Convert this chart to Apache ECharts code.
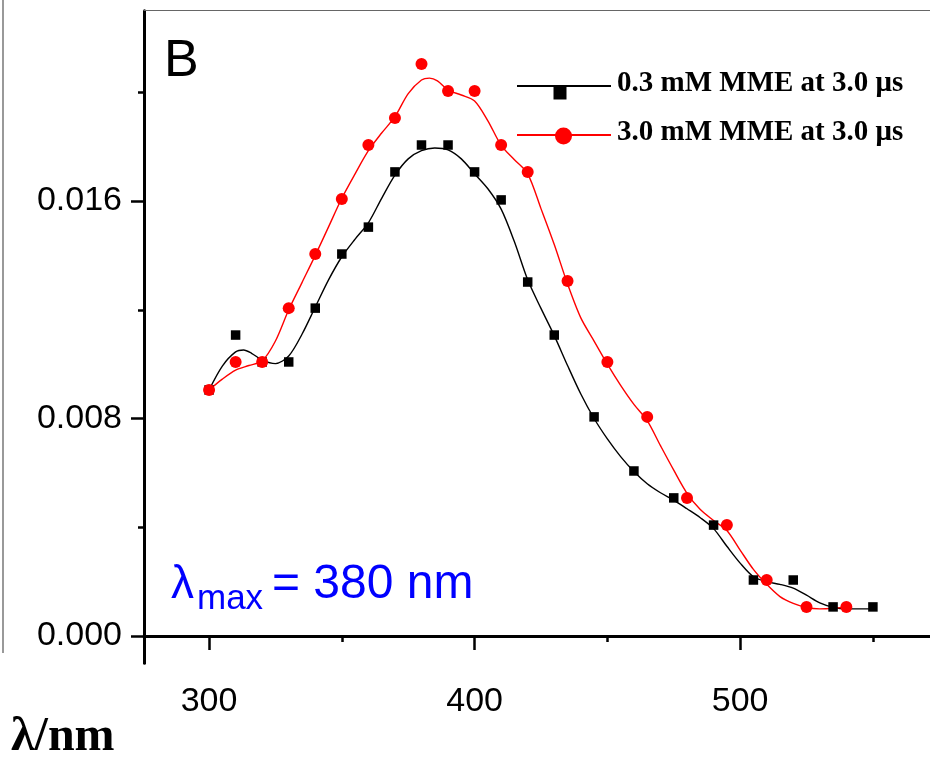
<!DOCTYPE html>
<html>
<head>
<meta charset="utf-8">
<script src="https://cdn.jsdelivr.net/npm/echarts@6/dist/echarts.min.js"></script>
<style>
html,body{margin:0;padding:0;background:#fff;}
#chart{width:930px;height:757px;}
</style>
</head>
<body>
<div id="chart"></div>
<script>
// Measured points (wavelength nm, ΔOD)
var blackX = [300,310,320,330,340,350,360,370,380,390,400,410,420,430,445,460,475,490,505,520,535,550];
var blackY = [0.00905,0.01107,0.01008,0.01008,0.01206,0.01405,0.01504,0.01707,0.01806,0.01806,0.01707,0.01604,0.01302,0.01107,0.00806,0.00607,0.00508,0.00408,0.00206,0.00206,0.00107,0.00107];
var redX = [300,310,320,330,340,350,360,370,380,390,400,410,420,435,450,465,480,495,510,525,540];
var redY = [0.00905,0.01008,0.01008,0.01206,0.01405,0.01607,0.01806,0.01905,0.02104,0.02005,0.02005,0.01806,0.01707,0.01306,0.01008,0.00806,0.00508,0.00408,0.00206,0.00107,0.00107];
// Fitted curves
var blackFitX = [300,305,310,313,316,320,325,330,335,340,345,350,355,360,365,370,375,380,385,390,395,400,405,410,415,420,425,430,435,440,445,450,455,460,465,470,475,480,485,490,495,500,505,510,515,520,525,530,535,540,550];
var blackFitY = [0.00905,0.00993,0.01045,0.01052,0.01040,0.01015,0.01002,0.01030,0.01110,0.01210,0.01310,0.01395,0.01460,0.01520,0.01610,0.01695,0.01755,0.01785,0.01795,0.01788,0.01755,0.01700,0.01645,0.01570,0.01450,0.01310,0.01205,0.01105,0.00995,0.00890,0.00800,0.00725,0.00660,0.00605,0.00560,0.00527,0.00500,0.00468,0.00435,0.00395,0.00330,0.00268,0.00218,0.00200,0.00190,0.00176,0.00150,0.00122,0.00106,0.00100,0.00100];
var redFitX = [300,305,310,315,320,325,330,335,340,345,350,355,360,365,370,375,380,383,386,390,395,400,405,410,415,420,425,430,435,440,445,450,455,460,465,470,475,480,485,490,495,500,505,510,515,520,525,530,535,540];
var redFitY = [0.00905,0.00945,0.00978,0.00995,0.01012,0.01085,0.01200,0.01300,0.01400,0.01505,0.01610,0.01700,0.01785,0.01850,0.01910,0.01995,0.02045,0.02052,0.02042,0.02008,0.01990,0.01968,0.01895,0.01805,0.01752,0.01700,0.01572,0.01440,0.01295,0.01170,0.01085,0.01000,0.00922,0.00852,0.00792,0.00700,0.00610,0.00525,0.00465,0.00425,0.00388,0.00316,0.00245,0.00190,0.00145,0.00120,0.00105,0.00100,0.00102,0.00107];
var xMajor = [300,400,500];
var xMinor = [350,450,550];
var yMajor = [0,0.008,0.016];
var yMinor = [0.004,0.012,0.020];
var seriesNames = ['0.3 mM MME at 3.0 \u03bcs','3.0 mM MME at 3.0 \u03bcs'];

function pairs(xs, ys){ return xs.map(function(x,i){return [x, ys[i]];}); }

var XMIN = 275.5, XMAX = 571.5, YMIN = -0.001, YMAX = 0.023;
var chart = echarts.init(document.getElementById('chart'), null, {renderer:'canvas'});
var option = {
  animation: false,
  backgroundColor: '#fff',
  grid: {left: 144, top: 10.7, right: 0, height: 652.5, containLabel: false},
  xAxis: [
    {type:'value', min:XMIN, max:XMAX, position:'bottom',
     axisLine:{show:true, lineStyle:{color:'#000', width:3}},
     axisTick:{show:true, customValues:xMajor, length:14, lineStyle:{color:'#000', width:2.5}},
     axisLabel:{show:true, customValues:xMajor, margin:21, color:'#000', fontSize:34, fontFamily:'Liberation Sans, Arial'},
     splitLine:{show:false}},
    {type:'value', min:XMIN, max:XMAX, position:'bottom',
     axisLine:{show:false},
     axisTick:{show:true, customValues:xMinor, length:6, lineStyle:{color:'#000', width:2.5}},
     axisLabel:{show:false}, splitLine:{show:false}},
    {type:'value', min:XMIN, max:XMAX, position:'top',
     axisLine:{show:true, lineStyle:{color:'#666', width:1.2}},
     axisTick:{show:false}, axisLabel:{show:false}, splitLine:{show:false}}
  ],
  yAxis: [
    {type:'value', min:YMIN, max:YMAX, position:'left',
     axisLine:{show:true, lineStyle:{color:'#000', width:3}},
     axisTick:{show:true, customValues:yMajor, length:13, lineStyle:{color:'#000', width:2.5}},
     axisLabel:{show:true, customValues:yMajor, margin:22, color:'#000', fontSize:34, fontFamily:'Liberation Sans, Arial',
       formatter:function(v){return v.toFixed(3);}},
     splitLine:{show:false}},
    {type:'value', min:YMIN, max:YMAX, position:'left',
     axisLine:{show:false},
     axisTick:{show:true, customValues:yMinor, length:6, lineStyle:{color:'#000', width:2.5}},
     axisLabel:{show:false}, splitLine:{show:false}}
  ],
  series: [
    {name:seriesNames[0]+' fit', type:'line', data:pairs(blackFitX, blackFitY), smooth:0.3, showSymbol:false, symbol:'none',
     lineStyle:{color:'#000', width:1.4}, z:2},
    {name:seriesNames[1]+' fit', type:'line', data:pairs(redFitX, redFitY), smooth:0.3, showSymbol:false, symbol:'none',
     lineStyle:{color:'#ff0000', width:1.4}, z:3},
    {name:seriesNames[0], type:'scatter', data:pairs(blackX, blackY), symbol:'rect', symbolSize:9.5,
     itemStyle:{color:'#000', opacity:1}, z:4},
    {name:seriesNames[1], type:'scatter', data:pairs(redX, redY), symbol:'circle', symbolSize:12,
     itemStyle:{color:'#ff0000', opacity:1}, z:5}
  ],
  graphic: [
    {type:'line', shape:{x1:3, y1:0, x2:3, y2:653}, style:{stroke:'#555', lineWidth:1.2}},
    {type:'text', left:164, top:36, style:{text:'B', font:'52px "Liberation Sans", Arial', fill:'#000'}},
    {type:'line', shape:{x1:517, y1:86, x2:611, y2:86}, style:{stroke:'#000', lineWidth:2.2}},
    {type:'rect', shape:{x:553.5, y:86.5, width:13, height:13}, style:{fill:'#000'}},
    {type:'text', x:617, y:83.5, style:{text:seriesNames[0], font:'bold 29px "Liberation Serif", "Times New Roman"', fill:'#000', verticalAlign:'middle', align:'left'}},
    {type:'line', shape:{x1:517, y1:135, x2:611, y2:135}, style:{stroke:'#ff0000', lineWidth:2.2}},
    {type:'circle', shape:{cx:563.5, cy:136, r:8.5}, style:{fill:'#ff0000'}},
    {type:'text', x:617, y:132.5, style:{text:seriesNames[1], font:'bold 29px "Liberation Serif", "Times New Roman"', fill:'#000', verticalAlign:'middle', align:'left'}},
    {type:'text', x:171, y:585, style:{text:'\u03bb', font:'46px "Liberation Sans", Arial', fill:'#0000ff', verticalAlign:'middle', align:'left'}},
    {type:'text', x:197, y:599, style:{text:'max', font:'35px "Liberation Sans", Arial', fill:'#0000ff', verticalAlign:'middle', align:'left'}},
    {type:'text', x:272, y:585, style:{text:'= 380 nm', font:'48px "Liberation Sans", Arial', fill:'#0000ff', verticalAlign:'middle', align:'left'}},
    {type:'text', x:11, y:738, style:{text:'\u03bb/nm', font:'bold 48px "Liberation Serif", "Times New Roman"', fill:'#000', verticalAlign:'middle', align:'left'}}
  ]
};
chart.setOption(option);
</script>
</body>
</html>
